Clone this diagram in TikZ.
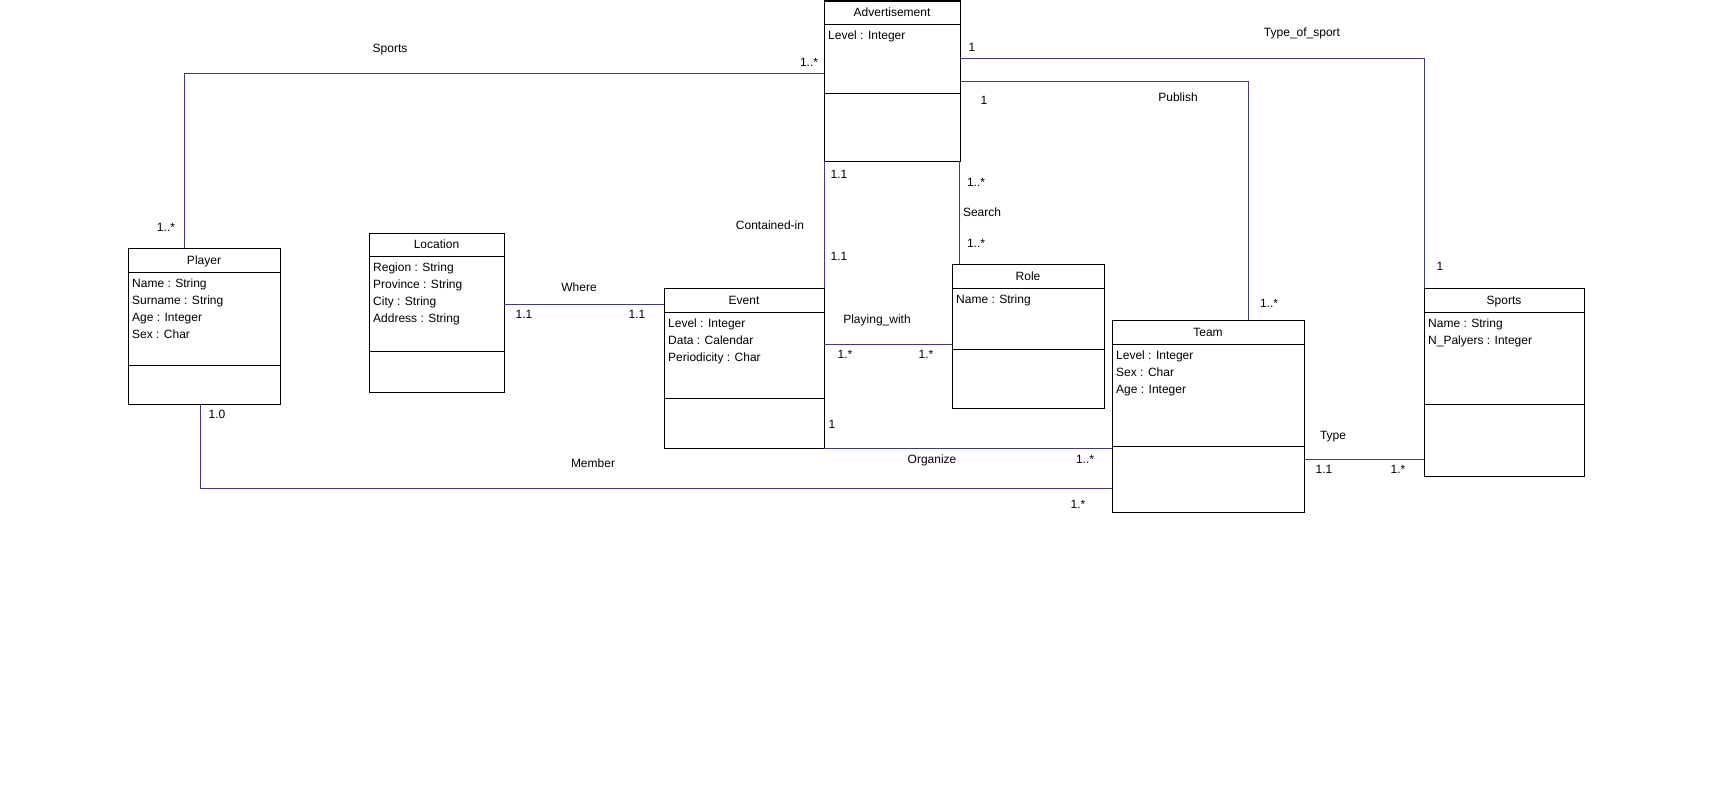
\documentclass[tikz,border=0pt]{standalone}
\usepackage{fontspec}
\setmainfont{Liberation Sans}
\usetikzlibrary{calc}
\usetikzlibrary{shadows}
\usetikzlibrary{positioning}

\definecolor{assocblue}{RGB}{56,56,160}

\tikzset{
    classbox/.style={draw=black, line width=1pt, fill=white, inner sep=0pt, outer sep=0pt,
        drop shadow={shadow xshift=1.2pt, shadow yshift=-1.2pt, fill=black!40, opacity=0.6}},
    classrule/.style={draw=black, line width=1pt},
    classtitle/.style={font=\fontsize{12}{14}\selectfont, inner sep=0pt, anchor=base},
    attr/.style={font=\fontsize{12}{14}\selectfont, inner sep=0pt, anchor=base west},
    assoc/.style={draw=assocblue, line width=1pt},
    lbl/.style={font=\fontsize{12}{14}\selectfont, inner sep=0pt, text height=8.6pt, text depth=0pt},
}

% name, x, y, width, height, header, divider, title, attributes
\newcommand{\umlclass}[9]{%
    \node[classbox, minimum width=#4pt, minimum height=#5pt, anchor=north west] (#1) at (#2,#3) {};
    \node[classtitle] (#1-title) at ($(#1.north west)+(#4/2,#6/2+4)$) {#8};
    \draw[classrule] ($(#1.north west)+(0,#6)$) -- ++(#4,0);
    \draw[classrule] ($(#1.north west)+(0,#7)$) -- ++(#4,0);
    \foreach \at [count=\i] in {#9}
        \node[attr] (#1-a\i) at ($(#1.north west)+(4,#6+15+17*\i-17)$) {\at};
}

\begin{document}
\begin{tikzpicture}[x=1pt, y=-1pt]
    \useasboundingbox (0,0) rectangle (1712,787);

    % classes
    \umlclass{adv}{824}{1}{136}{160}{23}{92}{Advertisement}{Level : Integer}
    \umlclass{player}{128}{248}{152}{156}{24}{117}{Player}{Name : String, Surname : String, Age : Integer, Sex : Char}
    \umlclass{location}{369}{233}{135}{159}{23}{118}{Location}{Region : String, Province : String, City : String, Address : String}
    \umlclass{event}{664}{288}{160}{160}{24}{110}{Event}{Level : Integer, Data : Calendar, Periodicity : Char}
    \umlclass{role}{952}{264}{152}{144}{24}{85}{Role}{Name : String}
    \umlclass{team}{1112}{320}{192}{192}{24}{126}{Team}{Level : Integer, Sex : Char, Age : Integer}
    \umlclass{sports}{1424}{288}{160}{188}{24}{116}{Sports}{Name : String, N\_Palyers : Integer}

    % associations
    \draw[assoc] ([yshift=-72pt]adv.north west) -| ([xshift=56pt]player.north west);
    \draw[assoc] ([yshift=-57pt]adv.north east) -| (sports.north west);
    \draw[assoc] ([yshift=-80pt]adv.north east) -| ([xshift=136pt]team.north west);
    \draw[assoc] (adv.south west) -- (event.north east);
    \draw[assoc] ([xshift=7pt]role.north west) -- ([xshift=7pt]role.north west |- adv.south);
    \draw[assoc] ([yshift=-71pt]location.north east) -- ([yshift=-16pt]event.north west);
    \draw[assoc] ([yshift=-56pt]event.north east) -- ([yshift=-80pt]role.north west);
    \draw[assoc] (event.south east) -- (event.south east -| team.west);
    \draw[assoc] ([xshift=72pt]player.south west) |- ([yshift=-168pt]team.north west);
    \draw[assoc] ([yshift=-139pt]team.north east) -- ([yshift=-139pt]team.north east -| sports.west);

    % association names
    \node[lbl] (n-sports) at (390,48) {Sports};
    \node[lbl] (n-typesport) at (1302,32) {Type\_of\_sport};
    \node[lbl] (n-publish) at (1178,97) {Publish};
    \node[lbl] (n-search) at (982,212) {Search};
    \node[lbl] (n-contained) at (770,225) {Contained-in};
    \node[lbl] (n-where) at (579,287) {Where};
    \node[lbl] (n-playing) at (877,319) {Playing\_with};
    \node[lbl] (n-organize) at (932,459) {Organize};
    \node[lbl] (n-member) at (593,463) {Member};
    \node[lbl] (n-type) at (1333,435) {Type};

    % multiplicities
    \node[lbl] (m1) at (809,62) {1..*};
    \node[lbl] (m2) at (166,227) {1..*};
    \node[lbl] (m3) at (972,47) {1};
    \node[lbl] (m4) at (984,100) {1};
    \node[lbl] (m5) at (839,174) {1.1};
    \node[lbl] (m6) at (976,182) {1..*};
    \node[lbl] (m7) at (976,243) {1..*};
    \node[lbl] (m8) at (839,256) {1.1};
    \node[lbl] (m9) at (524,314) {1.1};
    \node[lbl] (m10) at (637,314) {1.1};
    \node[lbl] (m11) at (845,354) {1.*};
    \node[lbl] (m12) at (926,354) {1.*};
    \node[lbl] (m13) at (832,424) {1};
    \node[lbl] (m14) at (1085,459) {1..*};
    \node[lbl] (m15) at (1078,504) {1.*};
    \node[lbl] (m16) at (217,414) {1.0};
    \node[lbl] (m17) at (1324,469) {1.1};
    \node[lbl] (m18) at (1398,469) {1.*};
    \node[lbl] (m19) at (1269,303) {1..*};
    \node[lbl] (m20) at (1440,266) {1};
\end{tikzpicture}
\end{document}
